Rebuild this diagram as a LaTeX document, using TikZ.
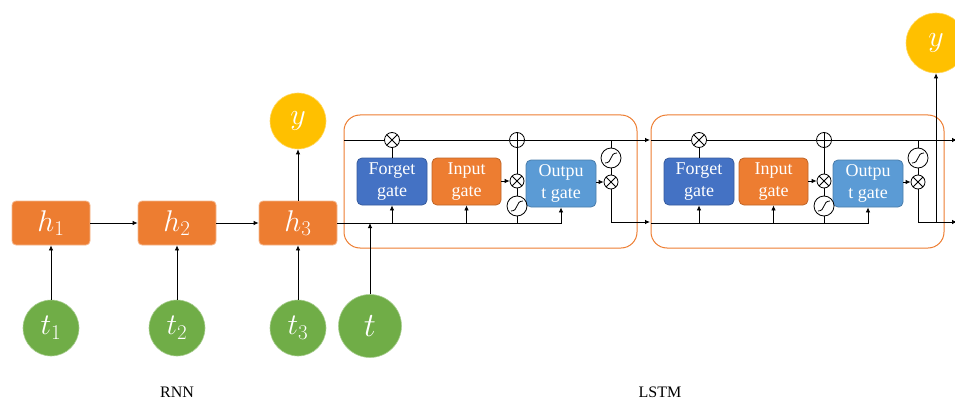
\RequirePackage{fix-cm}
\documentclass[tikz,border=0pt]{standalone}
\usepackage{fontspec}
\setmainfont{Liberation Serif}
\usetikzlibrary{arrows.meta}
\definecolor{cor}{HTML}{ED7D31}
\definecolor{cblue}{HTML}{4472C4}
\definecolor{clblue}{HTML}{5B9BD5}
\definecolor{cgreen}{HTML}{70AD47}
\definecolor{cyel}{HTML}{FFC000}
\tikzset{
  conn/.style={draw=black, line width=0.8pt},
  arr/.style={conn, -{Latex[length=5pt,width=4.5pt]}},
  hbox/.style={fill=cor, draw=cor!55!white, line width=0.8pt, rounded corners=4pt, minimum width=78pt, minimum height=44pt, inner sep=0pt, text=white, font=\fontsize{30}{34}\selectfont},
  incirc/.style={circle, fill=cgreen, draw=cgreen!60!white, line width=0.6pt, minimum size=56pt, inner sep=0pt, text=white, font=\fontsize{30}{34}\selectfont},
  outcirc/.style={circle, fill=cyel, draw=cyel!60!white, line width=0.6pt, minimum size=56pt, inner sep=0pt, text=white, font=\fontsize{30}{34}\selectfont},
  gatebox/.style={rounded corners=5pt, minimum width=70pt, minimum height=47pt, inner sep=0pt, text=white, align=center, font=\fontsize{18}{22}\selectfont, line width=0.8pt},
  cellbox/.style={draw=cor, line width=1pt, rounded corners=16pt, minimum width=293pt, minimum height=133pt, inner sep=0pt},
  mulop/.style={circle, draw=black, fill=white, line width=0.8pt, minimum size=15pt, inner sep=0pt,
    path picture={\draw[line width=0.8pt] (path picture bounding box.north west) -- (path picture bounding box.south east)
      (path picture bounding box.north east) -- (path picture bounding box.south west);}},
  addop/.style={circle, draw=black, fill=white, line width=0.8pt, minimum size=15pt, inner sep=0pt,
    path picture={\draw[line width=0.8pt] (path picture bounding box.north) -- (path picture bounding box.south)
      (path picture bounding box.east) -- (path picture bounding box.west);}},
  actop/.style={circle, draw=black, fill=white, line width=0.8pt, minimum size=20pt, inner sep=0pt,
    path picture={\draw[line width=0.8pt] ([shift={(-6pt,-5pt)}]path picture bounding box.center)
      .. controls ([shift={(2pt,-5pt)}]path picture bounding box.center) and ([shift={(-2pt,5pt)}]path picture bounding box.center)
      .. ([shift={(6pt,5pt)}]path picture bounding box.center);}},
  lbl/.style={font=\fontsize{16}{18}\selectfont, inner sep=0pt}
}
\begin{document}
\begin{tikzpicture}[x=1pt,y=-1pt]
\useasboundingbox (0,0) rectangle (955,401);

% ---------- RNN ----------
\node[hbox] (h1) at (51,223) {$h_1$};
\node[hbox] (h2) at (177,223) {$h_2$};
\node[hbox] (h3) at (298,223) {$h_3$};
\node[incirc] (t1) at (51,328) {$t_1$};
\node[incirc] (t2) at (177,328) {$t_2$};
\node[incirc] (t3) at (298,328) {$t_3$};
\node[outcirc] (y1) at (298,121) {$y$};
\draw[arr] (t1) -- (h1);
\draw[arr] (t2) -- (h2);
\draw[arr] (t3) -- (h3);
\draw[arr] (h1) -- (h2);
\draw[arr] (h2) -- (h3);
\draw[arr] (h3) -- (y1);

% ---------- LSTM cells ----------
\foreach \c/\dx in {1/0, 2/307}{
  \node[cellbox] (box\c) at (490.5+\dx,181.5) {};
  \node[gatebox, fill=cblue, draw=cblue!80!black] (f\c) at (392+\dx,181.5) {Forget\\gate};
  \node[gatebox, fill=cor, draw=cor!80!black, minimum width=69pt] (i\c) at (466.5+\dx,181.5) {Input\\gate};
  \node[gatebox, fill=clblue, draw=clblue!80!black] (o\c) at (561+\dx,183.5) {Outpu\\t gate};
  \node[mulop] (fm\c) at (392+\dx,140) {};
  \node[addop] (pl\c) at (517+\dx,140) {};
  \node[mulop, minimum size=14pt] (im\c) at (517+\dx,181) {};
  \node[actop] (it\c) at (517+\dx,206) {};
  \node[actop] (ot\c) at (611+\dx,158) {};
  \node[mulop, minimum size=14pt] (om\c) at (611+\dx,182) {};
  \coordinate (tin\c) at (344+\dx,140);
  \coordinate (tout\c) at (650+\dx,140);
  \coordinate (bin\c) at (344+\dx,223);
  \coordinate (hout\c) at (650+\dx,222);
  % top (cell state) line
  \draw[conn] (tin\c) -- (fm\c);
  \draw[conn] (fm\c) -- (pl\c);
  \draw[arr] (pl\c) -- (tout\c);
  \draw[conn] (f\c.north) -- (fm\c);
  \draw[conn] (pl\c) -- (im\c);
  \draw[conn] (im\c) -- (it\c);
  \draw[conn] (it\c) -- (it\c |- bin\c);
  \draw[arr] (i\c.east |- im\c) -- (im\c);
  % bottom (input) line
  \draw[arr] (bin\c) -- (o\c.south |- bin\c) -- (o\c.south);
  \draw[arr] (f\c.south |- bin\c) -- (f\c.south);
  \draw[arr] (i\c.south |- bin\c) -- (i\c.south);
  % output part
  \draw[conn] (ot\c) -- (ot\c |- tin\c);
  \draw[conn] (ot\c) -- (om\c);
  \draw[arr] (o\c.east |- om\c) -- (om\c);
  \draw[arr] (om\c) -- (om\c |- hout\c) -- (hout\c);
}

% input into LSTM
\node[incirc, minimum size=63pt, font=\fontsize{34}{38}\selectfont] (t) at (370,326) {$t$};
\draw[conn] (h3) -- (bin1);
\draw[arr] (t) -- (t |- bin1);

% LSTM output
\node[outcirc, minimum size=60pt] (y2) at (936,43) {$y$};
\coordinate (yb) at (936,222);
\draw[arr] (yb) -- (y2);

% labels
\node[lbl] (lrnn) at (177,392) {RNN};
\node[lbl] (llstm) at (660,392) {LSTM};
\end{tikzpicture}
\end{document}
